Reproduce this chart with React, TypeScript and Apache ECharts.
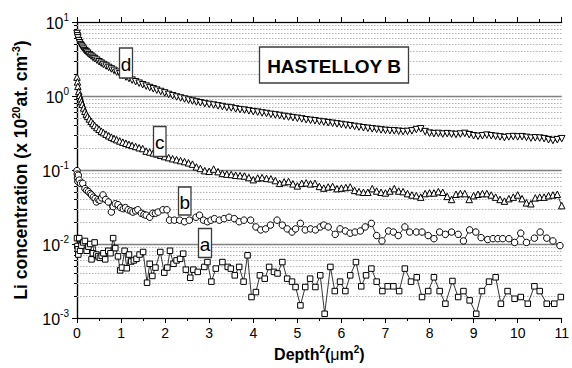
import React, { useEffect, useRef } from "react";
import * as echarts from "echarts";

const FONT = "'Liberation Sans', Arial, Helvetica, sans-serif";

// Depth^2 (µm^2) sampling shared by curves c and d
const dcDepthSq = [
  0, 0.01, 0.02, 0.04, 0.06, 0.08, 0.1, 0.12, 0.15, 0.18,
  0.21, 0.24, 0.28, 0.32, 0.36, 0.4, 0.45, 0.5, 0.55, 0.6,
  0.66, 0.72, 0.78, 0.84, 0.9, 0.97, 1.04, 1.11, 1.18, 1.25,
  1.33, 1.41, 1.49, 1.57, 1.65, 1.73, 1.81, 1.9, 1.99, 2.08,
  2.17, 2.26, 2.35, 2.44, 2.53, 2.62, 2.71, 2.8,
  2.9, 3.0, 3.1, 3.2, 3.3, 3.4, 3.5, 3.6, 3.7, 3.8,
  3.9, 4.0, 4.1, 4.2, 4.3, 4.4, 4.5, 4.6, 4.7, 4.8,
  4.9, 5.0, 5.1, 5.2, 5.3, 5.4, 5.5, 5.6, 5.7, 5.8,
  5.9, 6.0, 6.1, 6.2, 6.3, 6.4, 6.5, 6.6, 6.7, 6.8,
  6.9, 7.0, 7.1, 7.2, 7.3, 7.4, 7.5, 7.6, 7.7, 7.8,
  7.9, 8.0, 8.1, 8.2, 8.3, 8.4, 8.5, 8.6, 8.7, 8.8,
  8.9, 9.0, 9.1, 9.2, 9.3, 9.4, 9.5, 9.6, 9.7, 9.8,
  9.9, 10.0, 10.1, 10.2, 10.3, 10.4, 10.5, 10.6, 10.7, 10.8,
  10.9, 11.0,
];

// curve d (down triangles)
const seriesD = [
  7.0, 6.5, 6.1, 5.6, 5.25, 4.95, 4.75, 4.55, 4.3, 4.1,
  3.95, 3.8, 3.62, 3.47, 3.33, 3.2, 3.05, 2.9, 2.78, 2.66,
  2.54, 2.43, 2.32, 2.22, 2.1, 2.0, 1.9, 1.8, 1.72, 1.64,
  1.56, 1.49, 1.42, 1.36, 1.3, 1.25, 1.2, 1.15, 1.1, 1.05,
  1.01, 0.97, 0.94, 0.91, 0.88, 0.855, 0.83, 0.81,
  0.79, 0.77, 0.755, 0.735, 0.72, 0.7, 0.69, 0.67, 0.655, 0.645,
  0.63, 0.615, 0.605, 0.59, 0.58, 0.565, 0.555, 0.545, 0.53, 0.52,
  0.51, 0.5, 0.49, 0.478, 0.47, 0.462, 0.452, 0.445, 0.436, 0.428,
  0.42, 0.412, 0.404, 0.396, 0.388, 0.38, 0.372, 0.366, 0.36, 0.354,
  0.348, 0.343, 0.34, 0.338, 0.334, 0.33, 0.332, 0.338, 0.352, 0.36,
  0.33, 0.315, 0.31, 0.312, 0.306, 0.31, 0.305, 0.302, 0.306, 0.312,
  0.3, 0.29, 0.285, 0.29, 0.296, 0.29, 0.285, 0.28, 0.274, 0.28,
  0.283, 0.28, 0.282, 0.276, 0.27, 0.272, 0.27, 0.265, 0.256, 0.25,
  0.256, 0.265,
];

// curve c (up triangles)
const seriesC = [
  1.8, 1.55, 1.35, 1.15, 1.02, 0.92, 0.84, 0.77, 0.69, 0.62,
  0.57, 0.53, 0.49, 0.455, 0.425, 0.4, 0.375, 0.355, 0.335, 0.32,
  0.305, 0.29, 0.278, 0.267, 0.257, 0.247, 0.238, 0.23, 0.222, 0.215,
  0.208, 0.2, 0.195, 0.18, 0.175, 0.17, 0.165, 0.158, 0.152, 0.147,
  0.142, 0.138, 0.134, 0.13, 0.125, 0.12, 0.11, 0.105,
  0.098, 0.096, 0.103, 0.095, 0.09, 0.088, 0.087, 0.085, 0.084, 0.083,
  0.079, 0.074, 0.078, 0.079, 0.077, 0.076, 0.072, 0.066, 0.069, 0.07,
  0.065, 0.061, 0.066, 0.067, 0.065, 0.066, 0.06, 0.057, 0.059, 0.06,
  0.056, 0.057, 0.058, 0.059, 0.053, 0.051, 0.05, 0.05, 0.056, 0.052,
  0.05, 0.049, 0.052, 0.056, 0.052, 0.051, 0.048, 0.046, 0.045, 0.043,
  0.048, 0.049, 0.049, 0.051, 0.05, 0.044, 0.04, 0.047, 0.048, 0.048,
  0.04, 0.045, 0.047, 0.048, 0.048, 0.046, 0.043, 0.04, 0.038, 0.041,
  0.043, 0.046, 0.041, 0.036, 0.035, 0.042, 0.043, 0.043, 0.045, 0.046,
  0.047, 0.033,
];

// curve b (circles): [depth^2, concentration]
const seriesB = [
  [0, 0.098], [0.005, 0.088], [0.01, 0.078], [0.02, 0.07], [0.03, 0.085],
  [0.05, 0.073], [0.08, 0.066], [0.13, 0.066], [0.18, 0.056], [0.22, 0.053],
  [0.26, 0.051], [0.3, 0.048], [0.33, 0.046], [0.37, 0.043], [0.41, 0.041],
  [0.44, 0.037], [0.48, 0.04], [0.52, 0.039], [0.56, 0.042], [0.59, 0.046],
  [0.65, 0.04], [0.71, 0.037], [0.78, 0.027], [0.82, 0.032], [0.87, 0.035],
  [0.93, 0.034], [0.99, 0.031], [1.05, 0.03], [1.1, 0.031], [1.16, 0.029],
  [1.22, 0.028], [1.27, 0.027], [1.33, 0.028], [1.38, 0.029], [1.46, 0.026],
  [1.52, 0.025], [1.57, 0.0245], [1.65, 0.023], [1.72, 0.026], [1.78, 0.026],
  [1.84, 0.027], [1.95, 0.029], [2.04, 0.029], [2.1, 0.021], [2.21, 0.021],
  [2.33, 0.021], [2.44, 0.02], [2.55, 0.021], [2.7, 0.023], [2.78, 0.0245],
  [2.87, 0.021], [2.96, 0.02], [3.04, 0.021], [3.12, 0.022], [3.23, 0.021],
  [3.34, 0.022], [3.45, 0.023], [3.57, 0.022], [3.68, 0.02], [3.79, 0.021],
  [3.94, 0.021], [4.06, 0.017], [4.17, 0.0155], [4.28, 0.016], [4.39, 0.018],
  [4.54, 0.021], [4.66, 0.018], [4.77, 0.016], [4.88, 0.0145], [4.96, 0.016],
  [5.07, 0.019], [5.18, 0.0155], [5.3, 0.016], [5.41, 0.0155], [5.52, 0.017],
  [5.6, 0.018], [5.7, 0.017], [5.86, 0.0135], [5.97, 0.016], [6.09, 0.015],
  [6.2, 0.014], [6.31, 0.0145], [6.43, 0.015], [6.54, 0.017], [6.68, 0.019],
  [6.8, 0.013], [6.92, 0.011], [7.07, 0.015], [7.18, 0.0145], [7.29, 0.013],
  [7.44, 0.017], [7.55, 0.0145], [7.7, 0.0145], [7.83, 0.0145], [7.97, 0.013],
  [8.1, 0.0118], [8.23, 0.0145], [8.36, 0.0135], [8.5, 0.0145], [8.65, 0.0135],
  [8.77, 0.011], [8.91, 0.0155], [9.05, 0.0145], [9.17, 0.0122], [9.32, 0.0115],
  [9.44, 0.0118], [9.55, 0.0118], [9.66, 0.0118], [9.8, 0.0118], [9.93, 0.0105],
  [10.07, 0.014], [10.2, 0.0105], [10.38, 0.012], [10.51, 0.0145], [10.66, 0.012],
  [10.8, 0.011], [10.96, 0.0095],
];

// curve a (squares, joined): [depth^2, concentration]
const seriesA = [
  [0, 0.012], [0.01, 0.0094], [0.02, 0.0085], [0.03, 0.0072], [0.05, 0.012],
  [0.07, 0.0081], [0.1, 0.0095], [0.14, 0.0105], [0.18, 0.011], [0.22, 0.0081],
  [0.26, 0.0092], [0.3, 0.01], [0.33, 0.0062], [0.36, 0.0075], [0.4, 0.0105],
  [0.44, 0.0072], [0.48, 0.0068], [0.52, 0.0065], [0.56, 0.0069], [0.6, 0.0075],
  [0.64, 0.0062], [0.71, 0.0081], [0.76, 0.0075], [0.82, 0.012], [0.87, 0.0088],
  [0.93, 0.0068], [0.98, 0.0044], [1.02, 0.0048], [1.08, 0.0081], [1.13, 0.0047],
  [1.18, 0.0072], [1.23, 0.0058], [1.29, 0.006], [1.35, 0.0063], [1.42, 0.0072],
  [1.5, 0.0078], [1.59, 0.003], [1.65, 0.0054], [1.71, 0.0037], [1.78, 0.0048],
  [1.89, 0.0078], [1.98, 0.0041], [2.05, 0.0048], [2.11, 0.0081], [2.19, 0.0054],
  [2.26, 0.006], [2.34, 0.0063], [2.41, 0.0074], [2.47, 0.0045], [2.57, 0.0035],
  [2.64, 0.0045], [2.74, 0.0042], [2.89, 0.0049], [2.96, 0.0057], [3.05, 0.0031],
  [3.15, 0.00465], [3.3, 0.0057], [3.42, 0.0049], [3.49, 0.00465], [3.58, 0.00377],
  [3.68, 0.0049], [3.78, 0.0031], [3.87, 0.00703], [3.96, 0.00192], [4.06, 0.00224],
  [4.15, 0.00377], [4.26, 0.0034], [4.36, 0.0049], [4.47, 0.0042], [4.55, 0.004],
  [4.66, 0.0057], [4.77, 0.0034], [4.88, 0.0031], [4.96, 0.00262], [5.07, 0.00148],
  [5.18, 0.00262], [5.29, 0.0034], [5.41, 0.00262], [5.52, 0.00377], [5.62, 0.00114],
  [5.75, 0.0049], [5.85, 0.00231], [5.97, 0.0031], [6.09, 0.00231], [6.2, 0.00377],
  [6.33, 0.0057], [6.45, 0.00268], [6.56, 0.00377], [6.68, 0.00465], [6.8, 0.0031],
  [6.93, 0.00231], [7.05, 0.00268], [7.18, 0.00268], [7.31, 0.00231], [7.44, 0.00465],
  [7.58, 0.0031], [7.71, 0.00355], [7.83, 0.00192], [7.97, 0.00231], [8.1, 0.00355],
  [8.23, 0.00231], [8.36, 0.00156], [8.52, 0.00316], [8.65, 0.00192], [8.77, 0.00231],
  [8.91, 0.00173], [9.06, 0.00114], [9.19, 0.00231], [9.35, 0.0031], [9.5, 0.00355],
  [9.62, 0.00156], [9.77, 0.00231], [9.93, 0.00182], [10.07, 0.00192], [10.23, 0.00156],
  [10.38, 0.00268], [10.5, 0.00231], [10.66, 0.00156], [10.83, 0.00156], [10.98, 0.00192],
];

// y-axis decade ticks and their exponent labels
const yTickValues = [0.001, 0.01, 0.1, 1, 10];
const yTickExponents = ["-3", "-2", "-1", "0", "1"];

// minor (dotted) grid positions
const minorGridValues = [
  0.002, 0.003, 0.004, 0.005, 0.006, 0.007, 0.008, 0.009,
  0.02, 0.03, 0.04, 0.05, 0.06, 0.07, 0.08, 0.09,
  0.2, 0.3, 0.4, 0.5, 0.6, 0.7, 0.8, 0.9,
  2, 3, 4, 5, 6, 7, 8, 9,
];

const curveLabels = ["a", "b", "c", "d"];
const titleText = "HASTELLOY B";

export default function App() {
  const ref = useRef<HTMLDivElement>(null);

  useEffect(() => {
    document.body.style.margin = "0";
    if (!ref.current) return;
    const chart = echarts.init(ref.current, null, { renderer: "svg" });

    const marker = { color: "#ffffff", borderColor: "#000000", borderWidth: 1 };
    const line = (name: string, data: number[][], symbol: string, size: number, rotate: number, lw: number) => ({
      type: "line",
      name,
      data,
      symbol,
      symbolSize: size,
      symbolRotate: rotate,
      showAllSymbol: true,
      itemStyle: marker,
      lineStyle: { color: "#000", width: lw },
      z: 3,
      silent: true,
    });

    const labelBoxes = [
      { t: curveLabels[3], x: 119.5, y: 48, w: 13, h: 30 },
      { t: curveLabels[2], x: 153.5, y: 126.5, w: 12.5, h: 30 },
      { t: curveLabels[1], x: 178.5, y: 187, w: 12.5, h: 28 },
      { t: curveLabels[0], x: 198.5, y: 228.5, w: 13, h: 29 },
    ];
    const graphics: any[] = [
      {
        type: "rect",
        shape: { x: 259.5, y: 47, width: 149, height: 36 },
        style: { fill: "#fff", stroke: "#3c3c3c", lineWidth: 1.3 },
        z: 100,
      },
      {
        type: "text",
        x: 334,
        y: 66,
        style: {
          text: titleText,
          fontSize: 19,
          fontWeight: "bold",
          fontFamily: FONT,
          fill: "#000",
          align: "center",
          verticalAlign: "middle",
        },
        z: 101,
      },
    ];
    labelBoxes.forEach((b) => {
      graphics.push({
        type: "rect",
        shape: { x: b.x, y: b.y, width: b.w, height: b.h },
        style: { fill: "#fff", stroke: "#3c3c3c", lineWidth: 1.3 },
        z: 100,
      });
      graphics.push({
        type: "text",
        x: b.x + b.w / 2,
        y: b.y + b.h / 2 + 1,
        style: {
          text: b.t,
          fontSize: 19,
          fontFamily: FONT,
          fill: "#000",
          align: "center",
          verticalAlign: "middle",
        },
        z: 101,
      });
    });

    const xAxisCommon = {
      type: "value",
      min: 0,
      max: 11,
      interval: 1,
      axisLine: { show: true, lineStyle: { color: "#000", width: 1.2 } },
      axisTick: { show: true, inside: false, length: 5, lineStyle: { color: "#000", width: 1 } },
      minorTick: { show: true, splitNumber: 2, length: 3, lineStyle: { color: "#000", width: 1 } },
      splitLine: { show: false },
    };

    chart.setOption({
      animation: false,
      grid: { left: 77, right: 8, top: 22, bottom: 50, containLabel: false },
      xAxis: [
        {
          ...xAxisCommon,
          position: "bottom",
          axisLabel: { fontSize: 14, fontFamily: FONT, color: "#000", margin: 8 },
          name: "{n|Depth}{s|2}{n|(}{m|μ}{n|m}{s|2}{n|)}",
          nameLocation: "middle",
          nameGap: 26,
          nameTextStyle: {
            fontFamily: FONT,
            color: "#000",
            rich: {
              n: { fontSize: 16, fontWeight: "bold", fontFamily: FONT, color: "#000", lineHeight: 18, verticalAlign: "bottom" },
              m: { fontSize: 16, fontFamily: FONT, color: "#000", lineHeight: 18, verticalAlign: "bottom" },
              s: { fontSize: 10, fontWeight: "bold", fontFamily: FONT, color: "#000", lineHeight: 9, verticalAlign: "top" },
            },
          },
        },
        {
          ...xAxisCommon,
          position: "top",
          axisLabel: { show: false },
        },
      ],
      yAxis: [
        {
          type: "log",
          logBase: 10,
          min: 0.001,
          max: 10,
          axisLine: { show: true, lineStyle: { color: "#000", width: 1.2 } },
          axisTick: { show: true, inside: false, length: 5, lineStyle: { color: "#000", width: 1 } },
          splitLine: { show: true, lineStyle: { color: "#7f7f7f", width: 1.3 } },
          axisLabel: {
            margin: 8,
            formatter: (v: number) => {
              const i = yTickValues.findIndex((t) => Math.abs(t - v) / t < 1e-6);
              return i < 0 ? "" : `{b|10}{s|${yTickExponents[i]}}`;
            },
            rich: {
              b: { fontSize: 16, fontFamily: FONT, color: "#000", lineHeight: 19, verticalAlign: "bottom" },
              s: { fontSize: 10, fontFamily: FONT, color: "#000", lineHeight: 9, verticalAlign: "top" },
            },
          },
          name: "{n|Li concentration (x 10}{s|20}{n|at. cm}{s|-3}{n|)}",
          nameLocation: "middle",
          nameGap: 47,
          nameRotate: 90,
          nameTextStyle: {
            fontFamily: FONT,
            color: "#000",
            rich: {
              n: { fontSize: 17.5, fontWeight: "bold", fontFamily: FONT, color: "#000", lineHeight: 20, verticalAlign: "bottom" },
              s: { fontSize: 11, fontWeight: "bold", fontFamily: FONT, color: "#000", lineHeight: 9, verticalAlign: "top" },
            },
          },
        },
        {
          type: "log",
          logBase: 10,
          min: 0.001,
          max: 10,
          position: "right",
          axisLine: { show: true, lineStyle: { color: "#000", width: 1.2 } },
          axisTick: { show: false },
          axisLabel: { show: false },
          splitLine: { show: false },
        },
      ],
      series: [
        {
          type: "custom",
          silent: true,
          z: 1,
          clip: false,
          data: minorGridValues.map((v) => [0, v]),
          renderItem: (params: any, api: any) => {
            const p = api.coord([0, api.value(1)]);
            const cs = params.coordSys;
            const y = Math.round(p[1]) + 0.5;
            return {
              type: "group",
              children: [
                {
                  type: "line",
                  shape: { x1: cs.x, y1: y, x2: cs.x + cs.width, y2: y },
                  style: { stroke: "#b4b4b4", lineWidth: 1, lineDash: [1.5, 1.5] },
                },
                {
                  type: "line",
                  shape: { x1: cs.x - 3, y1: y, x2: cs.x, y2: y },
                  style: { stroke: "#000", lineWidth: 1 },
                },
              ],
            };
          },
        },
        line("d", dcDepthSq.map((x, i) => [x, seriesD[i]]), "triangle", 6.5, 180, 0.8),
        line("c", dcDepthSq.map((x, i) => [x, seriesC[i]]), "triangle", 6.5, 0, 0.8),
        line("b", seriesB, "circle", 6.5, 0, 0.8),
        line("a", seriesA, "rect", 5.5, 0, 0.8),
      ],
      graphic: graphics,
    });

    return () => chart.dispose();
  }, []);

  return <div ref={ref} style={{ width: 572, height: 368 }} />;
}
